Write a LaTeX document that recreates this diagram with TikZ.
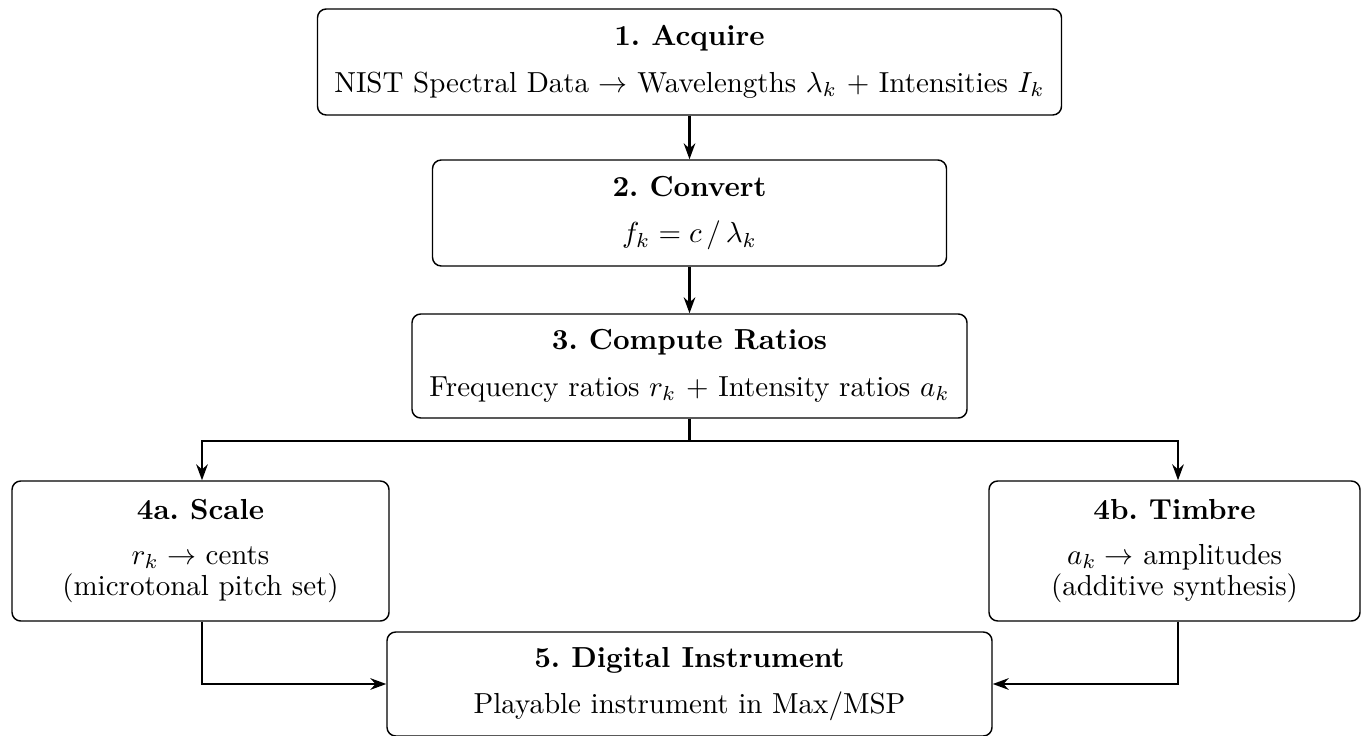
\documentclass[tikz,border=0pt]{standalone}
\usetikzlibrary{arrows.meta}
\frenchspacing
\begin{document}
\begin{tikzpicture}[x=0.345pt,y=-0.345pt,
  box/.style={draw, line width=0.5pt, rounded corners=3pt, align=center, inner sep=0pt},
  conn/.style={line width=0.8pt, -{Stealth[length=5.5pt,width=4pt]}},
  plain/.style={line width=0.8pt}]
\useasboundingbox (0,0) rectangle (1361,736);
\node[box, minimum width=744*0.345pt, minimum height=106*0.345pt] (b1) at (689.5,62)
  {\textbf{1. Acquire}\\[4pt] NIST Spectral Data $\rightarrow$ Wavelengths $\lambda_k$ + Intensities $I_k$};
\node[box, minimum width=514*0.345pt, minimum height=106*0.345pt] (b2) at (689.5,213)
  {\textbf{2. Convert}\\[4pt] $f_k = c \,/\, \lambda_k$};
\node[box, minimum width=555*0.345pt, minimum height=104*0.345pt] (b3) at (689.5,366)
  {\textbf{3. Compute Ratios}\\[4pt] Frequency ratios $r_k$ + Intensity ratios $a_k$};
\node[box, minimum width=377*0.345pt, minimum height=140*0.345pt] (b4a) at (200.5,551)
  {\textbf{4a. Scale}\\[3.5pt] $r_k \rightarrow$ cents\\[-1.3pt] (microtonal pitch set)};
\node[box, minimum width=371*0.345pt, minimum height=140*0.345pt] (b4b) at (1174.5,551)
  {\textbf{4b. Timbre}\\[3.5pt] $a_k \rightarrow$ amplitudes\\[-1.3pt] (additive synthesis)};
\node[box, minimum width=605*0.345pt, minimum height=104*0.345pt] (b5) at (689.5,684)
  {\textbf{5. Digital Instrument}\\[4pt] Playable instrument in Max/MSP};
\coordinate (split) at (689.5,441);
\draw[conn] (b1) -- (b2);
\draw[conn] (b2) -- (b3);
\draw[plain] (b3.south) -- (split);
\draw[conn] (split) -| (b4a.north -| 202,0);
\draw[conn] (split) -| (b4b.north -| 1178,0);
\draw[conn] (b4a.south -| 202,0) |- (b5.west);
\draw[conn] (b4b.south -| 1178,0) |- (b5.east);
\end{tikzpicture}
\end{document}
